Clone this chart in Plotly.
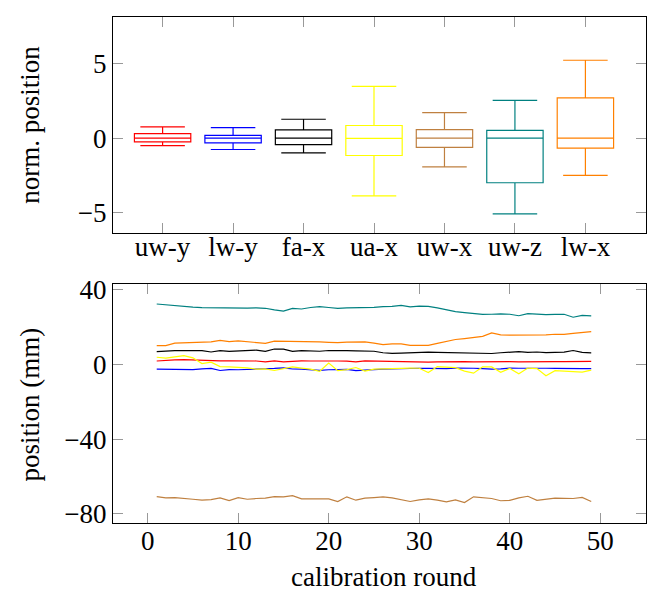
import plotly.graph_objects as go

# ---- top panel: box statistics (normalised position) ----
box_labels = ["uw-y", "lw-y", "fa-x", "ua-x", "uw-x", "uw-z", "lw-x"]
box_colors = ["#ff0000", "#0000ff", "#000000", "#ffff00", "#bf8040", "#008080", "#ff8000"]
lower_whisker = [-0.51, -0.77, -0.99, -3.88, -1.94, -5.09, -2.51]
q1_vals = [-0.26, -0.33, -0.44, -1.17, -0.62, -3.00, -0.68]
median_vals = [0.0, 0.0, 0.0, -0.02, 0.0, 0.0, 0.0]
q3_vals = [0.29, 0.18, 0.55, 0.84, 0.57, 0.51, 2.69]
upper_whisker = [0.75, 0.70, 1.26, 3.46, 1.70, 2.53, 5.22]

# ---- bottom panel: positions per calibration round (mm) ----
rounds = list(range(1, 50))
uw_z = [32.3, 31.8, 31.2, 30.9, 30.6, 30.4, 30.3, 30.1, 30.0, 30.3, 30.1, 30.2, 30.0, 29.1, 28.5, 29.9, 29.6,
        30.4, 30.9, 30.4, 30.0, 30.2, 30.2, 30.2, 30.5, 30.9, 31.0, 31.6, 30.8, 31.2, 31.0, 30.2, 29.2, 28.2,
        27.7, 27.0, 26.7, 26.8, 27.0, 26.8, 26.0, 27.1, 26.7, 26.6, 26.7, 26.8, 25.2, 26.2, 25.9]
lw_x = [10.0, 10.0, 11.3, 11.4, 11.6, 11.7, 12.0, 12.8, 12.2, 12.6, 12.2, 11.8, 11.2, 12.4, 12.4, 12.3, 12.2,
        12.0, 12.0, 11.8, 11.6, 11.9, 12.1, 12.0, 11.3, 10.6, 11.0, 10.9, 10.2, 10.1, 10.2, 11.2, 12.3, 13.3,
        13.8, 14.2, 15.0, 16.8, 15.8, 15.6, 15.6, 15.6, 15.7, 15.8, 16.1, 16.0, 16.6, 17.0, 17.5]
fa_x = [6.8, 7.2, 7.3, 7.3, 7.2, 7.3, 6.6, 7.3, 6.9, 7.2, 7.7, 7.6, 6.9, 8.2, 8.1, 6.9, 7.3, 7.2, 7.0, 7.4,
        7.5, 7.3, 7.2, 7.1, 7.0, 6.2, 5.9, 6.0, 6.2, 6.4, 6.5, 6.4, 6.3, 6.4, 6.3, 6.1, 5.9, 5.8, 6.2, 6.6,
        6.8, 6.4, 6.6, 6.3, 6.4, 6.5, 7.4, 6.4, 6.1]
uw_y = [1.8, 2.2, 2.4, 2.5, 2.3, 2.0, 1.9, 1.9, 1.9, 1.9, 1.9, 1.8, 1.3, 1.8, 1.3, 1.8, 1.9, 1.8, 1.9, 1.8,
        1.8, 1.7, 1.3, 1.9, 1.8, 1.7, 1.3, 1.3, 1.2, 1.1, 1.2, 1.3, 1.4, 1.4, 1.4, 1.3, 1.4, 1.3, 1.3, 1.4,
        1.3, 1.4, 1.4, 1.3, 1.5, 1.4, 1.5, 1.5, 1.6]
lw_y = [-2.6, -2.7, -2.9, -3.0, -2.8, -2.4, -2.2, -3.3, -2.8, -2.9, -2.8, -2.6, -2.3, -2.2, -1.9, -2.5, -2.6,
        -2.7, -3.2, -2.9, -2.6, -2.7, -3.4, -2.9, -2.8, -2.6, -2.4, -2.2, -2.2, -2.1, -2.2, -2.3, -2.3, -2.0,
        -1.9, -2.1, -2.3, -2.6, -2.4, -2.0, -2.1, -2.0, -2.1, -2.1, -2.2, -2.1, -2.2, -2.3, -2.3]
ua_x = [3.8, 3.3, 4.0, 4.7, 3.5, 0.4, 1.2, -1.2, -1.4, -1.6, -1.9, -2.6, -2.4, -3.3, -2.4, -1.4, -2.0, -2.6,
        -3.7, 0.7, -3.4, -2.8, -1.7, -3.6, -2.6, -2.4, -2.2, -2.0, -2.0, -2.1, -4.4, -1.2, -1.5, -1.8, -3.6,
        -4.7, -1.3, -1.4, -4.3, -2.2, -5.1, -2.0, -2.3, -6.1, -3.4, -3.6, -3.9, -4.2, -3.1]
uw_x = [-70.8, -71.5, -71.3, -71.6, -72.2, -72.7, -72.4, -71.5, -72.9, -71.3, -72.2, -71.8, -71.6, -70.8,
        -70.9, -70.3, -72.0, -72.0, -72.0, -72.0, -73.4, -70.9, -72.7, -71.6, -71.3, -70.9, -71.5, -72.5,
        -73.4, -72.5, -72.0, -72.7, -73.6, -72.5, -74.0, -70.9, -71.5, -71.8, -73.0, -72.8, -71.5, -70.6,
        -72.8, -72.3, -71.6, -71.7, -71.8, -71.2, -73.4]

series = [
    ("uw-z", uw_z, "#008080"),
    ("lw-x", lw_x, "#ff8000"),
    ("fa-x", fa_x, "#000000"),
    ("uw-y", uw_y, "#ff0000"),
    ("lw-y", lw_y, "#0000ff"),
    ("ua-x", ua_x, "#ffff00"),
    ("uw-x", uw_x, "#bf8040"),
]

FONT = "Liberation Serif"
FS = 27

fig = go.Figure()

for i, lab in enumerate(box_labels):
    fig.add_trace(go.Box(
        x=[i], q1=[q1_vals[i]], median=[median_vals[i]], q3=[q3_vals[i]],
        lowerfence=[lower_whisker[i]], upperfence=[upper_whisker[i]],
        name=lab, width=0.8, whiskerwidth=0.79,
        line=dict(color=box_colors[i], width=1.2), fillcolor="rgba(255,255,255,0)",
        boxpoints=False, xaxis="x", yaxis="y", showlegend=False, hoverinfo="skip",
    ))

for name, vals, col in series:
    fig.add_trace(go.Scatter(
        x=rounds, y=vals, mode="lines", name=name,
        line=dict(color=col, width=1.2), xaxis="x2", yaxis="y2", showlegend=False,
    ))

axis_common = dict(
    showline=True, linecolor="black", linewidth=1, mirror="allticks",
    ticks="inside", ticklen=10, tickcolor="#999999", tickwidth=1,
    showgrid=False, zeroline=False,
    tickfont=dict(family=FONT, size=FS, color="black"),
)

fig.update_layout(
    width=639, height=584,
    margin=dict(l=105, r=0, t=1, b=69),
    paper_bgcolor="white", plot_bgcolor="white",
    font=dict(family=FONT, size=FS, color="black"),
    xaxis=dict(domain=[0, 1], anchor="y", range=[-0.704, 6.86], ticklabelstandoff=-10,
               tickmode="array", tickvals=list(range(7)), ticktext=box_labels, **axis_common),
    yaxis=dict(domain=[0.574, 1], anchor="x", range=[-6.34, 8.12],
               tickmode="array", tickvals=[-5, 0, 5], **axis_common),
    xaxis2=dict(domain=[0, 1], anchor="y2", range=[-3.83, 55.05], ticklabelstandoff=-6,
                tickmode="array", tickvals=[0, 10, 20, 30, 40, 50], **axis_common),
    yaxis2=dict(domain=[0, 0.472], anchor="x2", range=[-84.9, 42.9],
                tickmode="array", tickvals=[-80, -40, 0, 40], **axis_common),
    annotations=[
        dict(text="norm. position", xref="paper", yref="paper", x=-0.155, y=0.788,
             xanchor="center", yanchor="middle", textangle=-90, showarrow=False,
             font=dict(family=FONT, size=FS)),
        dict(text="position (mm)", xref="paper", yref="paper", x=-0.155, y=0.235,
             xanchor="center", yanchor="middle", textangle=-90, showarrow=False,
             font=dict(family=FONT, size=FS)),
        dict(text="calibration round", xref="paper", yref="paper", x=0.509,
             y=-0.107, xanchor="center", yanchor="middle", showarrow=False,
             font=dict(family=FONT, size=FS)),
    ],
)

fig.write_html("out.html")
